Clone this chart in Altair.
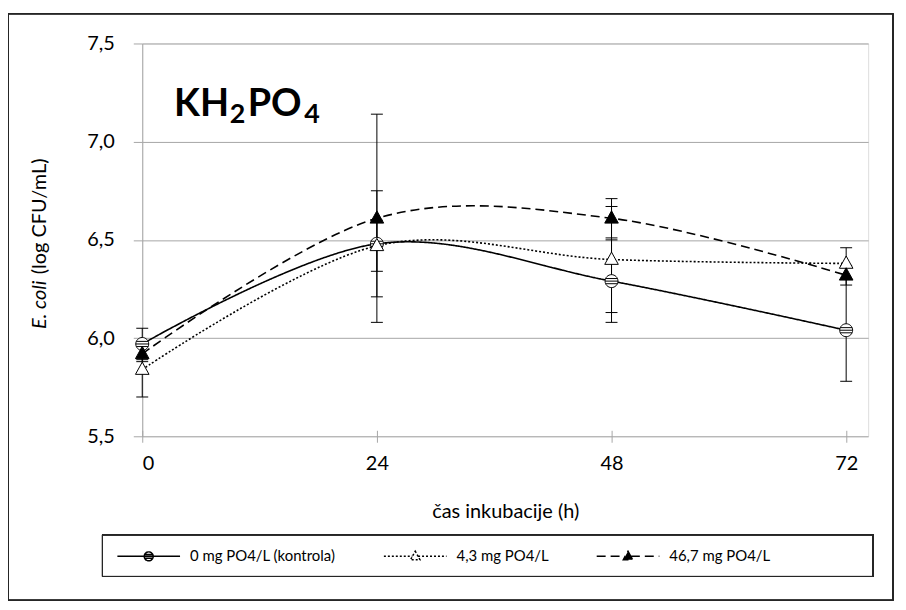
import altair as alt
import pandas as pd

# ---- data ----
times = [0, 24, 48, 72]
series = ["0 mg PO4/L (kontrola)", "4,3 mg PO4/L", "46,7 mg PO4/L"]
control = [5.97, 6.48, 6.29, 6.04]
control_err = [0.08, 0.27, 0.21, 0.26]
low = [5.84, 6.47, 6.40, 6.38]
low_err = [0.14, 0.13, 0.27, 0.08]
high = [5.92, 6.61, 6.61, 6.32]
high_err = [0.04, 0.53, 0.10, 0.05]
y_ticks = [5.5, 6.0, 6.5, 7.0, 7.5]
x_ticks = [0, 24, 48, 72]

rows = []
for name, vals, errs in zip(series, [control, low, high], [control_err, low_err, high_err]):
    for t, v, e in zip(times, vals, errs):
        rows.append({"t": t, "v": v, "lo": v - e, "hi": v + e, "series": name})
df = pd.DataFrame(rows)

FONT = "Lato"
GRID = "#a6a6a6"

# marker shapes (custom paths in unit square)
circ = ("M-1,0A1,1 0 1,1 1,0A1,1 0 1,1 -1,0Z"
        "M-0.92,-0.4L0.92,-0.4M-1,0L1,0M-0.92,0.4L0.92,0.4")
tri = "M0,-1.15L1.05,0.75L-1.05,0.75Z"
# legend shapes: line + marker
leg_circ = ("M-1,0L5,0M7,0L13,0"
            "M5,0A1,1 0 1,1 7,0A1,1 0 1,1 5,0Z"
            "M5.08,-0.4L6.92,-0.4M5,0L7,0M5.08,0.4L6.92,0.4")
leg_tri = "M-1,0L5.36,0M6.64,0L13,0M6,-1.15L7.05,0.75L4.95,0.75Z"

dashes = [[1, 0], [2, 2], [9, 5]]
fills = ["white", "white", "black"]
strokes = ["black", "black", "black"]

x = alt.X("t:Q", scale=alt.Scale(domain=[0, 74.25], nice=False, zero=False),
          axis=alt.Axis(values=x_ticks, title="čas inkubacije (h)", grid=False,
                        domain=False, offset=-6, tickSize=12, tickColor=GRID,
                        labelFontSize=20, labelPadding=11, titleFontSize=20,
                        titleFontWeight="normal", titlePadding=29, labelFont=FONT,
                        titleFont=FONT, labelColor="black", titleColor="black"))
y = alt.Y("v:Q", scale=alt.Scale(domain=[5.5, 7.5], nice=False, zero=False),
          axis=alt.Axis(values=y_ticks, title=None, grid=True, gridColor=GRID,
                        domainColor=GRID, tickColor=GRID, tickSize=9,
                        labelFontSize=20, labelPadding=19, labelFont=FONT,
                        labelColor="black",
                        labelExpr="replace(format(datum.value, '.1f'), '.', ',')"))

base = alt.Chart(df)

frame = base.mark_rect(fill=None, stroke="#262626", strokeWidth=1).encode(
    x=alt.value(-135), x2=alt.value(755), y=alt.value(-30), y2=alt.value(560))
legend_box = base.mark_rect(fill=None, stroke="#262626", strokeWidth=1).encode(
    x=alt.value(-40), x2=alt.value(735), y=alt.value(494), y2=alt.value(536))

err_rule = base.mark_rule(color="black", strokeWidth=1).encode(
    x=x, y=alt.Y("lo:Q"), y2="hi:Q")
cap_lo = base.mark_point(shape="M-1,0L1,0", size=144, stroke="black",
                         strokeWidth=1, opacity=1).encode(x="t:Q", y="lo:Q")
cap_hi = base.mark_point(shape="M-1,0L1,0", size=144, stroke="black",
                         strokeWidth=1, opacity=1).encode(x="t:Q", y="hi:Q")

lines = base.mark_line(color="black", strokeWidth=1.6, interpolate="cardinal",
                       tension=0).encode(
    x=x, y=y,
    strokeDash=alt.StrokeDash("series:N", scale=alt.Scale(domain=series, range=dashes),
                              legend=None))

points = base.mark_point(size=169, stroke="black", strokeWidth=1, opacity=1,
                         filled=False).encode(
    x="t:Q", y="v:Q",
    shape=alt.Shape("series:N", scale=alt.Scale(domain=series, range=[circ, tri, tri]),
                    legend=None),
    fill=alt.Fill("series:N", scale=alt.Scale(domain=series, range=fills), legend=None))

legend = alt.Legend(title=None, orient="none", legendX=-40, legendY=496,
                    direction="horizontal", padding=12,
                    labelFont=FONT, labelFontSize=15, labelColor="black",
                    labelOffset=61, symbolSize=81, symbolStrokeColor="black",
                    symbolStrokeWidth=1.5, columnPadding=45, symbolOpacity=1)
legend_layer = base.mark_point(strokeWidth=1.5, opacity=1).encode(
    shape=alt.Shape("series:N", scale=alt.Scale(domain=series,
                                                 range=[leg_circ, leg_tri, leg_tri]),
                    legend=legend),
    fill=alt.Fill("series:N", scale=alt.Scale(domain=series, range=fills), legend=legend),
    stroke=alt.Stroke("series:N", scale=alt.Scale(domain=series, range=strokes),
                      legend=legend),
    strokeDash=alt.StrokeDash("series:N", scale=alt.Scale(domain=series, range=dashes),
                              legend=legend),
).transform_filter("datum.t < 0")

# y title (italic genus name) and KH2PO4 label
title_rows = pd.DataFrame({"txt": ["x"]})
tb = alt.Chart(title_rows)
ytitle1 = tb.mark_text(text="E. coli", font=FONT, fontSize=20, fontStyle="italic",
                       angle=270, align="left", baseline="middle", color="black").encode(
    x=alt.value(-103), y=alt.value(287))
ytitle2 = tb.mark_text(text="(log CFU/mL)", font=FONT, fontSize=20, angle=270,
                       align="left", baseline="middle", color="black").encode(
    x=alt.value(-103), y=alt.value(232))
kh = tb.mark_text(text="KH", font=FONT, fontSize=38, fontWeight="bold", align="left",
                  baseline="alphabetic", color="black").encode(x=alt.value(32), y=alt.value(73))
s2 = tb.mark_text(text="2", font=FONT, fontSize=27, fontWeight="bold", align="left",
                  baseline="alphabetic", color="black").encode(x=alt.value(88), y=alt.value(80))
po = tb.mark_text(text="PO", font=FONT, fontSize=38, fontWeight="bold", align="left",
                  baseline="alphabetic", color="black").encode(x=alt.value(106), y=alt.value(73))
s4 = tb.mark_text(text="4", font=FONT, fontSize=27, fontWeight="bold", align="left",
                  baseline="alphabetic", color="black").encode(x=alt.value(163), y=alt.value(80))

chart = alt.layer(
    frame, legend_box, err_rule, cap_lo, cap_hi, lines, points, legend_layer,
    ytitle1, ytitle2, kh, s2, po, s4
).resolve_scale(
    shape="independent", fill="independent", strokeDash="independent",
    stroke="independent"
).properties(
    width=730, height=395,
    autosize=alt.AutoSizeParams(type="none"),
    padding={"left": 135, "top": 34, "right": 30, "bottom": 170},
).configure_view(stroke=None).configure(background="white")

chart.save("out.html", embed_options={"renderer": "svg", "actions": False})
